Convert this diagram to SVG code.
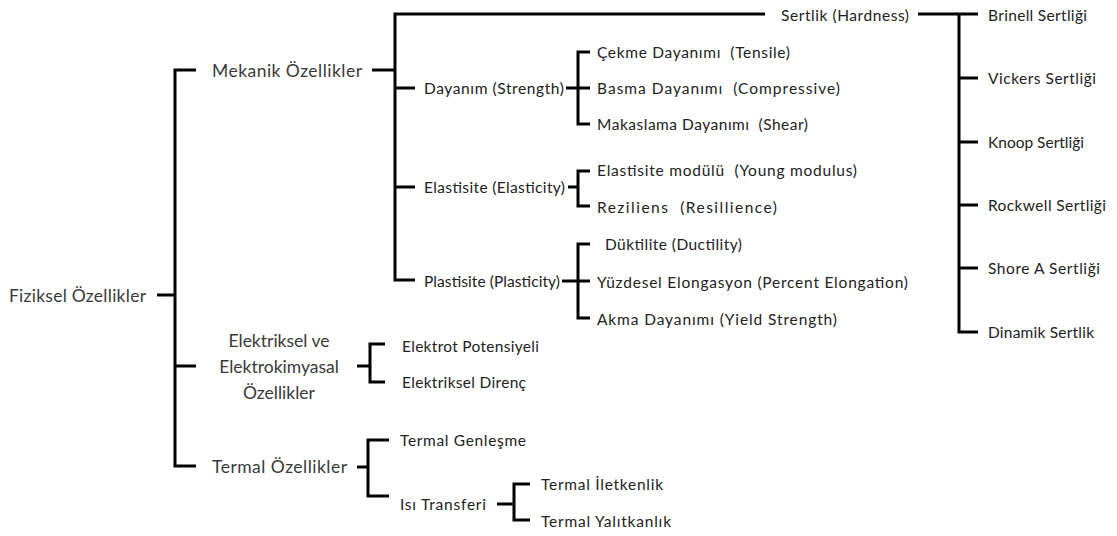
<svg xmlns="http://www.w3.org/2000/svg" width="1117" height="536" viewBox="0 0 1117 536">
<style>
.c{fill:none;stroke:#000;stroke-width:3;stroke-linecap:butt;stroke-linejoin:miter}
text{font-family:Lato,"Liberation Sans",sans-serif;fill:#3a3a3a;dominant-baseline:central}
.m{font-size:17.5px}
.s{font-size:15.5px;fill:#222}
</style>
<rect width="1117" height="536" fill="#fff"/>
<g id="connectors">
<path class="c" d="M157 295H175"/>
<path class="c" d="M196 70H175V466H196M175 366H196"/>
<path class="c" d="M372 70H395M765 14H395V280H415M395 88H415M395 187H415"/>
<path class="c" d="M918 14H978M959 14V332H978M959 78H978M959 142H978M959 205H978M959 268H978"/>
<path class="c" d="M566 88H590M590 52H578V124H590"/>
<path class="c" d="M568 187H578M590 171H578V206H590"/>
<path class="c" d="M562 281H590M590 244H578V318H590"/>
<path class="c" d="M357 366H370M385 344H370V382H385"/>
<path class="c" d="M357 467H368M389 440H368V496H389"/>
<path class="c" d="M497 504H514M530 484H514V520H530"/>
</g>
<g id="n-fiziksel"><text class="m" x="9" y="295" textLength="137">Fiziksel Özellikler</text></g>
<g id="n-mekanik"><text class="m" x="212" y="70" textLength="150">Mekanik Özellikler</text></g>
<g id="n-elektriksel"><text class="m" text-anchor="middle" x="279" y="340">Elektriksel ve</text><text class="m" text-anchor="middle" x="279" y="366">Elektrokimyasal</text><text class="m" text-anchor="middle" x="279" y="392">Özellikler</text></g>
<g id="n-termal"><text class="m" x="212" y="466" textLength="135">Termal Özellikler</text></g>
<g id="n-sertlik"><text class="s" x="781" y="15" textLength="128">Sertlik (Hardness)</text></g>
<g id="n-brinell"><text class="s" x="988" y="15" textLength="99">Brinell Sertliği</text></g>
<g id="n-vickers"><text class="s" x="988" y="78" textLength="108">Vickers Sertliği</text></g>
<g id="n-knoop"><text class="s" x="988" y="142" textLength="96">Knoop Sertliği</text></g>
<g id="n-rockwell"><text class="s" x="988" y="205" textLength="118">Rockwell Sertliği</text></g>
<g id="n-shore"><text class="s" x="988" y="268" textLength="112">Shore A Sertliği</text></g>
<g id="n-dinamik"><text class="s" x="988" y="332" textLength="106">Dinamik Sertlik</text></g>
<g id="n-dayanim"><text class="s" x="424" y="88" textLength="140">Dayanım (Strength)</text></g>
<g id="n-cekme"><text class="s" x="597" y="52" textLength="193" xml:space="preserve">Çekme Dayanımı  (Tensile)</text></g>
<g id="n-basma"><text class="s" x="597" y="88" textLength="243" xml:space="preserve">Basma Dayanımı  (Compressive)</text></g>
<g id="n-makaslama"><text class="s" x="597" y="124" textLength="211" xml:space="preserve">Makaslama Dayanımı  (Shear)</text></g>
<g id="n-elastisite"><text class="s" x="424" y="187" textLength="141">Elastisite (Elasticity)</text></g>
<g id="n-young"><text class="s" x="597" y="170" textLength="260" xml:space="preserve">Elastisite modülü  (Young modulus)</text></g>
<g id="n-reziliens"><text class="s" x="597" y="207" textLength="180" xml:space="preserve">Reziliens  (Resillience)</text></g>
<g id="n-plastisite"><text class="s" x="424" y="281" textLength="136">Plastisite (Plasticity)</text></g>
<g id="n-duktilite"><text class="s" x="605" y="244" textLength="137">Düktilite (Ductility)</text></g>
<g id="n-yuzdesel"><text class="s" x="597" y="282" textLength="311">Yüzdesel Elongasyon (Percent Elongation)</text></g>
<g id="n-akma"><text class="s" x="597" y="319" textLength="240">Akma Dayanımı (Yield Strength)</text></g>
<g id="n-potansiyel"><text class="s" x="402" y="346" textLength="137">Elektrot Potensiyeli</text></g>
<g id="n-direnc"><text class="s" x="402" y="382" textLength="124">Elektriksel Direnç</text></g>
<g id="n-genlesme"><text class="s" x="400" y="440" textLength="126">Termal Genleşme</text></g>
<g id="n-isi"><text class="s" x="400" y="504" textLength="86">Isı Transferi</text></g>
<g id="n-iletkenlik"><text class="s" x="541" y="484" textLength="122">Termal İletkenlik</text></g>
<g id="n-yalitkanlik"><text class="s" x="541" y="521" textLength="130">Termal Yalıtkanlık</text></g>
</svg>
